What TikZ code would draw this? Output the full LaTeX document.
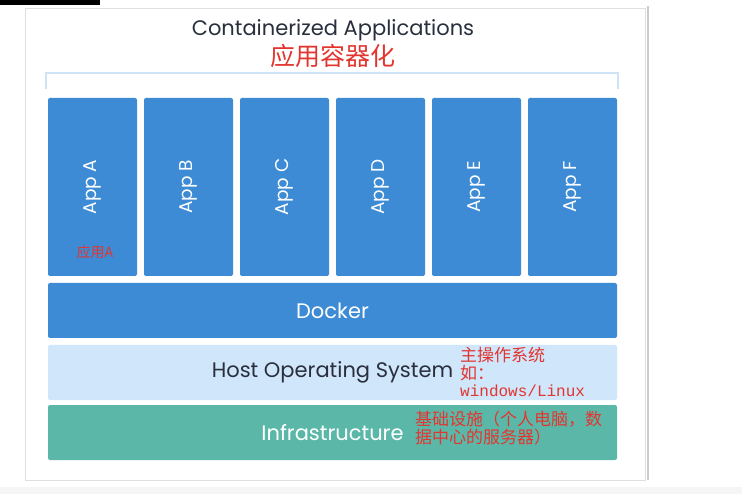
\documentclass[tikz,border=0pt]{standalone}
\usepackage{fontspec}
\setmainfont{Poppins}
\newfontfamily\cjk{Noto Sans CJK SC}
\newfontfamily\monofont{Liberation Mono}
\definecolor{appblue}{HTML}{3D8BD4}
\definecolor{hostblue}{HTML}{D0E6FB}
\definecolor{infragreen}{HTML}{5BB8A8}
\definecolor{notered}{HTML}{E2352F}
\definecolor{titlegray}{HTML}{2A2F3D}
\definecolor{bracketblue}{HTML}{CFE3F7}
\tikzset{
  appbox/.style={fill=appblue, rounded corners=2pt, minimum width=89pt, minimum height=178pt, inner sep=0pt},
  layerbox/.style={rounded corners=2pt, minimum width=569pt, minimum height=55pt, inner sep=0pt},
  note/.style={text=notered, align=left, inner sep=0pt, font=\cjk\fontsize{17}{17.5}\selectfont}
}
\begin{document}
\begin{tikzpicture}[x=1pt, y=-1pt]
  \useasboundingbox (0,0) rectangle (742,494);
  \fill[black] (0,0) rectangle (100,5);
  \fill[gray!8] (0,487) rectangle (742,494);
  \draw[gray!25] (25,8) rectangle (645,480);
  \draw[gray!40, line width=1.5pt] (648,6) -- (648,480);

  % titre
  \node[text=titlegray, font=\fontsize{21}{24}\selectfont] (title) at (333,30) {Containerized Applications};
  \node[text=notered, font=\cjk\fontsize{25}{28}\selectfont] (titlecn) at (333,56) {应用容器化};
  \draw[bracketblue, line width=2.5pt] (46,89) -- (46,73) -- (618,73) -- (618,89);

  % applications
  \foreach \i/\l in {0/A, 1/B, 2/C, 3/D, 4/E, 5/F} {
    \node[appbox] (app\l) at (92.5+\i*96,187) {};
    \node[rotate=90, text=white, font=\fontsize{18.5}{22}\selectfont] (label\l) at (app\l) {App \l};
  }
  \node[text=notered, font=\cjk\fontsize{14}{16}\selectfont, inner sep=0pt] (noteA) at (95,252) {应用A};

  % couches
  \node[layerbox, fill=appblue, text=white, font=\fontsize{21}{24}\selectfont] (docker) at (332.5,310.5) {Docker};
  \node[layerbox, fill=hostblue, text=titlegray, font=\fontsize{21}{24}\selectfont] (host) at (332.5,372.5) {Host Operating System};
  \node[layerbox, fill=infragreen, text=white, font=\fontsize{21}{24}\selectfont] (infra) at (332.5,432.5) {Infrastructure};

  \node[note, anchor=north west] (hostnote) at (460,347) {主操作系统\\如：\\{\monofont\fontsize{16}{17.5}\selectfont windows/Linux}};
  \node[note, anchor=north west] (infranote) at (415,411) {基础设施（个人电脑，数\\据中心的服务器）};
\end{tikzpicture}
\end{document}
